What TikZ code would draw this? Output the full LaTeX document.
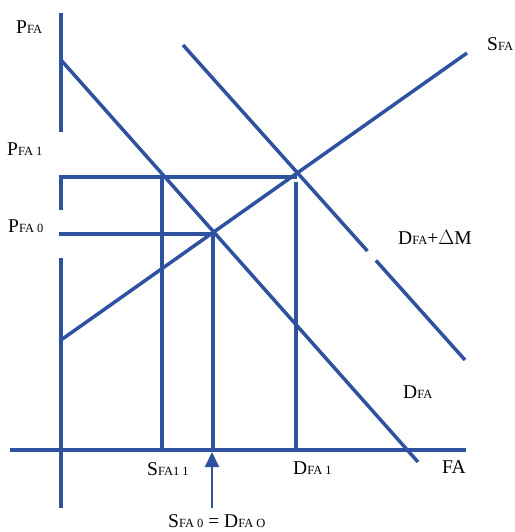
\documentclass[tikz,border=0pt]{standalone}
\usepackage{fontspec}
\setmainfont{Liberation Serif}
\usetikzlibrary{arrows.meta,calc}
\definecolor{lineblue}{RGB}{47,82,160}
\newcommand{\smlabel}[1]{{\fontsize{12.5}{12.5}\selectfont #1}}
\begin{document}
\begin{tikzpicture}[x=1pt,y=-1pt,
  curve/.style={draw=lineblue,line width=3.5pt,line join=miter},
  thin arrow/.style={draw=lineblue,line width=2pt,-{Triangle[length=15pt,width=14pt]}},
  lbl/.style={anchor=base west,inner sep=0pt,font=\fontsize{19.5}{19.5}\selectfont}]
\useasboundingbox (0,0) rectangle (514,532);
% coordinates
\coordinate (vTop) at (61,13);
\coordinate (vMidA) at (61,132);
\coordinate (vLowA) at (61,258);
\coordinate (vBot) at (61,508);
\coordinate (hL) at (10,450);
\coordinate (hR) at (466,450);
\coordinate (dTop) at (61,60);
\coordinate (dBot) at (418,462);
\coordinate (sBot) at (61,340);
\coordinate (sTop) at (467,53);
\coordinate (mTop) at (183,45);
\coordinate (mBot) at (465,360);
\coordinate (br0) at (61,210);
\coordinate (br1) at (61,177);
\coordinate (e1) at (297,177);
\coordinate (p0L) at (59,234);
\coordinate (e0) at (213,234);
\coordinate (s1Top) at (162,177);
\coordinate (s1Bot) at (162,450);
\coordinate (e0Bot) at (213,450);
\coordinate (d1Top) at (296,182);
\coordinate (d1Bot) at (296,450);
\coordinate (arTail) at (212,508);
\coordinate (arHead) at (212,452);
% axes
\draw[curve] (vTop) -- (vMidA);
\draw[curve] (vLowA) -- (vBot);
\draw[curve] (hL) -- (hR);
% curves
\draw[curve] (dTop) -- (dBot);
\draw[curve] (sBot) -- (sTop);
\draw[curve] (mTop) -- ($(mTop)!0.654!(mBot)$);
\draw[curve] ($(mTop)!0.684!(mBot)$) -- (mBot);
% guide lines
\draw[curve] (br0) -- (br1) -- (e1);
\draw[curve] (p0L) -- (e0);
\draw[curve] (s1Top) -- (s1Bot);
\draw[curve] (e0) -- (e0Bot);
\draw[curve] (d1Top) -- (d1Bot);
\draw[thin arrow] (arTail) -- (arHead);
% labels
\node[lbl] (lPFA) at (16,34) {P\smlabel{FA}};
\node[lbl] (lPFA1) at (7,155) {P\smlabel{FA 1}};
\node[lbl] (lPFA0) at (8,232) {P\smlabel{FA 0}};
\node[lbl] (lSFA) at (487,51) {S\smlabel{FA}};
\node[lbl] (lDM) at (398,244) {D\smlabel{FA}+$\Delta$M};
\node[lbl] (lDFA) at (403,398) {D\smlabel{FA}};
\node[lbl] (lS11) at (147,475) {S\smlabel{FA1 1}};
\node[lbl] (lD1) at (293,474) {D\smlabel{FA 1}};
\node[lbl] (lFA) at (442,473) {FA};
\node[lbl] (lEq) at (168,527) {S\smlabel{FA 0} = D\smlabel{FA O}};
\end{tikzpicture}
\end{document}
